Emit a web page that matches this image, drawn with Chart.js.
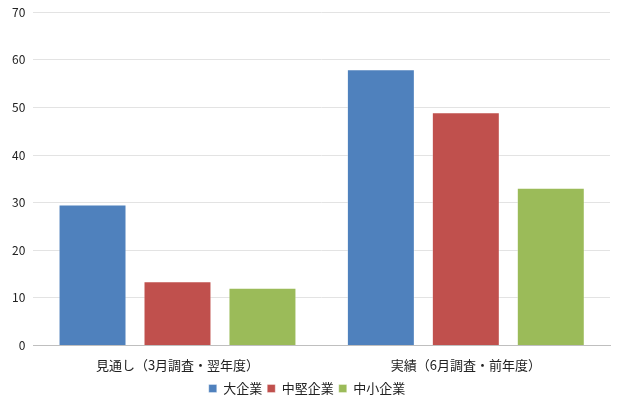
<!DOCTYPE html>
<html><head><meta charset="utf-8">
<script src="https://cdn.jsdelivr.net/npm/chart.js@4"></script>
<style>html,body{margin:0;padding:0;background:#fff;overflow:hidden}#w{width:620px;height:403px;margin-top:-3px}</style>
</head><body><div id="w"><canvas id="c"></canvas></div>
<script>
const categories = ["見通し（3月調査・翌年度）", "実績（6月調査・前年度）"];
const seriesNames = ["大企業", "中堅企業", "中小企業"];
const large = [29.6, 58.0];
const mid = [13.5, 49.0];
const small = [12.1, 33.1];
const colors = ["#4f81bd", "#c0504d", "#9bbb59"];
const font = "'Noto Sans CJK JP', 'Noto Sans', sans-serif";
Chart.defaults.font.family = font;
Chart.defaults.color = "#222";
new Chart(document.getElementById("c"), {
  type: "bar",
  data: {
    labels: categories,
    datasets: [large, mid, small].map((d, i) => ({
      label: seriesNames[i], data: d, backgroundColor: colors[i],
      borderColor: "rgba(255,255,255,0.35)", borderWidth: 1,
      barPercentage: 0.8, categoryPercentage: 0.884
    }))
  },
  options: {
    responsive: true, maintainAspectRatio: false, animation: false,
    layout: { padding: { top: 0, right: 10, left: 4, bottom: -5 } },
    plugins: {
      legend: { position: "bottom", labels: { boxWidth: 8, boxHeight: 8, padding: 5, font: { size: 13 } } },
      tooltip: { enabled: false }
    },
    scales: {
      x: { grid: { display: false }, border: { color: "#bfbfbf" }, ticks: { font: { size: 13 }, padding: 4 } },
      y: { min: 0, max: 70, ticks: { stepSize: 10, font: { size: 12 }, padding: 8 },
           grid: { color: "#e3e3e3", drawTicks: false }, border: { display: false } }
    }
  }
});
</script></body></html>
